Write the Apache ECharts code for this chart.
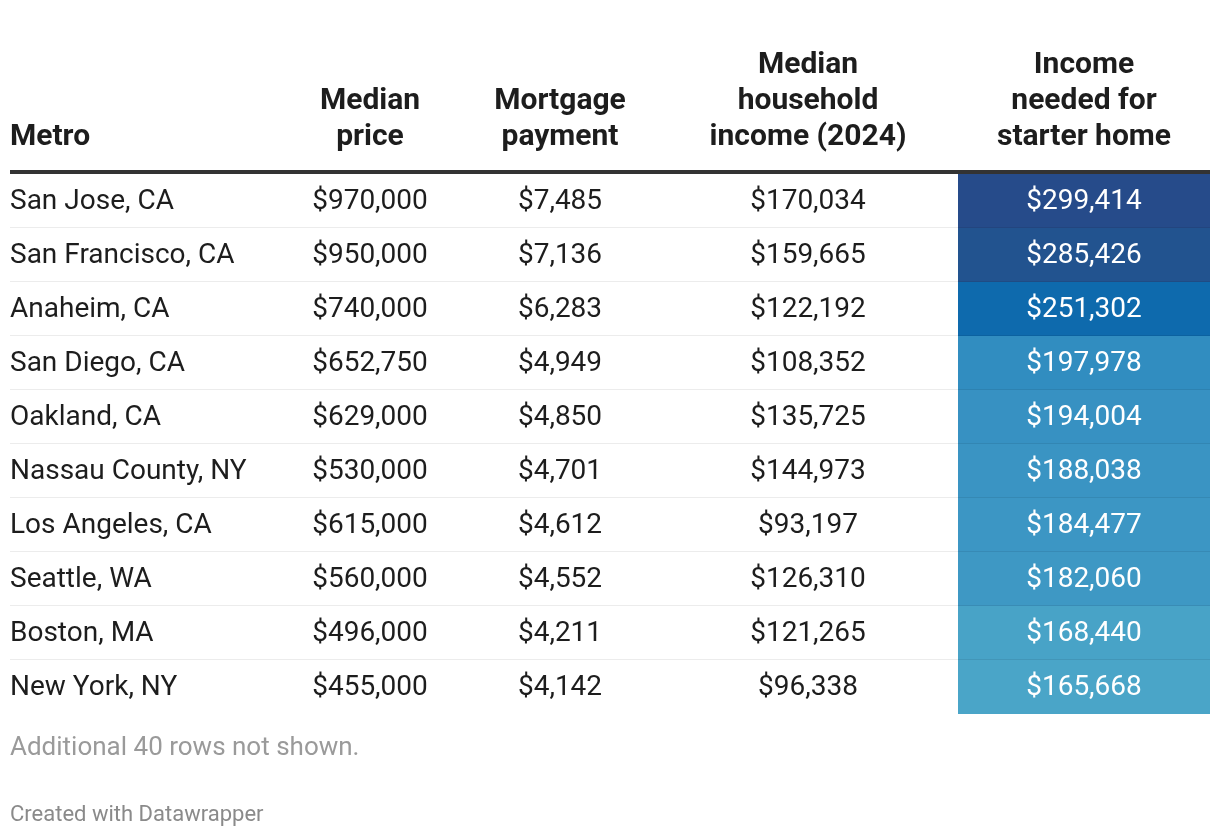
<!DOCTYPE html>
<html>
<head>
<meta charset="utf-8">
<script src="https://cdn.jsdelivr.net/npm/echarts@6/dist/echarts.min.js"></script>
<style>
  html, body { margin: 0; padding: 0; background: #ffffff; }
  #chart { width: 1220px; height: 838px; }
</style>
</head>
<body>
<div id="chart"></div>
<script>
// ---- Data ----
const metros = ['San Jose, CA', 'San Francisco, CA', 'Anaheim, CA', 'San Diego, CA', 'Oakland, CA',
  'Nassau County, NY', 'Los Angeles, CA', 'Seattle, WA', 'Boston, MA', 'New York, NY'];
const medianPrice = [970000, 950000, 740000, 652750, 629000, 530000, 615000, 560000, 496000, 455000];
const mortgagePayment = [7485, 7136, 6283, 4949, 4850, 4701, 4612, 4552, 4211, 4142];
const householdIncome = [170034, 159665, 122192, 108352, 135725, 144973, 93197, 126310, 121265, 96338];
const incomeNeeded = [299414, 285426, 251302, 197978, 194004, 188038, 184477, 182060, 168440, 165668];
const headers = [['Metro'], ['Median', 'price'], ['Mortgage', 'payment'],
  ['Median', 'household', 'income (2024)'], ['Income', 'needed for', 'starter home']];
const footNote = 'Additional 40 rows not shown.';
const credit = 'Created with Datawrapper';

// ---- Layout (x positions in the hidden 0..1200 axis) ----
const colX = [0, 360, 550, 798, 1074];
const cellLeft = 948, cellRight = 1200;
const FONT = 'Roboto, "Noto Sans", sans-serif';

function fmt(v) {
  return '$' + String(v).replace(/\B(?=(\d{3})+(?!\d))/g, ',');
}

const rows = metros.map((m, i) => [i, medianPrice[i], mortgagePayment[i], householdIncome[i], incomeNeeded[i]]);

const chart = echarts.init(document.getElementById('chart'), null, { renderer: 'canvas' });

const headerGraphics = [];
const lineYs = [65, 101, 137];
headers.forEach((h, c) => {
  const n = h.length;
  h.forEach((t, k) => {
    const y = lineYs[3 - n + k];
    headerGraphics.push({
      type: 'text',
      x: c === 0 ? 10 : colX[c] + 10,
      y: y,
      style: {
        text: t,
        fill: '#1d1d1d',
        font: 'bold 30px ' + FONT,
        textAlign: c === 0 ? 'left' : 'center',
        textVerticalAlign: 'middle',
        align: c === 0 ? 'left' : 'center',
        verticalAlign: 'middle'
      }
    });
  });
});

const option = {
  backgroundColor: '#ffffff',
  animation: false,
  grid: { left: 10, right: 10, top: 174, height: 540, containLabel: false },
  xAxis: { type: 'value', min: 0, max: 1200, show: false },
  yAxis: { type: 'category', data: metros, inverse: true, show: false },
  visualMap: {
    type: 'piecewise',
    show: false,
    dimension: 4,
    seriesIndex: 0,
    pieces: [
      { gte: 295000, color: '#264b8a' },
      { gte: 270000, lt: 295000, color: '#22538f' },
      { gte: 230000, lt: 270000, color: '#0e6aad' },
      { gte: 196000, lt: 230000, color: '#318dc0' },
      { gte: 190000, lt: 196000, color: '#3791c2' },
      { gte: 186000, lt: 190000, color: '#3a94c3' },
      { gte: 183000, lt: 186000, color: '#3c96c4' },
      { gte: 175000, lt: 183000, color: '#3e98c4' },
      { gte: 167000, lt: 175000, color: '#48a3c7' },
      { lt: 167000, color: '#4aa5c8' }
    ]
  },
  graphic: headerGraphics.concat([
    {
      type: 'rect',
      shape: { x: 10, y: 170, width: 1200, height: 4 },
      style: { fill: '#333333' }
    },
    {
      type: 'text', x: 10, y: 748,
      style: { text: footNote, fill: '#9a9a9a', font: '26px ' + FONT,
        textAlign: 'left', textVerticalAlign: 'middle', align: 'left', verticalAlign: 'middle' }
    },
    {
      type: 'text', x: 10, y: 815,
      style: { text: credit, fill: '#8a8a8a', font: '22px ' + FONT,
        textAlign: 'left', textVerticalAlign: 'middle', align: 'left', verticalAlign: 'middle' }
    }
  ]),
  series: [{
    type: 'custom',
    data: rows,
    encode: { y: 0 },
    renderItem: function (params, api) {
      const r = api.value(0);
      const center = api.coord([0, r]);
      const bandH = api.size([0, 1])[1];
      const top = center[1] - bandH / 2;
      const cy = center[1] + 1;
      const x = v => api.coord([v, r])[0];
      const children = [];
      // coloured cell
      children.push({
        type: 'rect',
        shape: { x: x(cellLeft), y: top, width: x(cellRight) - x(cellLeft), height: bandH },
        style: { fill: api.visual('color') }
      });
      // separator
      if (r < metros.length - 1) {
        children.push({
          type: 'rect',
          shape: { x: x(0), y: top + bandH - 1, width: x(1200) - x(0), height: 1 },
          style: { fill: 'rgba(0,0,0,0.075)' }
        });
      }
      const texts = [metros[r], fmt(api.value(1)), fmt(api.value(2)), fmt(api.value(3)), fmt(api.value(4))];
      texts.forEach((t, c) => {
        children.push({
          type: 'text',
          x: c === 0 ? x(0) : x(colX[c]),
          y: cy,
          style: {
            text: t,
            fill: c === 4 ? '#ffffff' : '#1d1d1d',
            font: '28px ' + FONT,
            textAlign: c === 0 ? 'left' : 'center',
            textVerticalAlign: 'middle',
            align: c === 0 ? 'left' : 'center',
            verticalAlign: 'middle'
          }
        });
      });
      return { type: 'group', children: children };
    }
  }]
};

chart.setOption(option);
</script>
</body>
</html>
